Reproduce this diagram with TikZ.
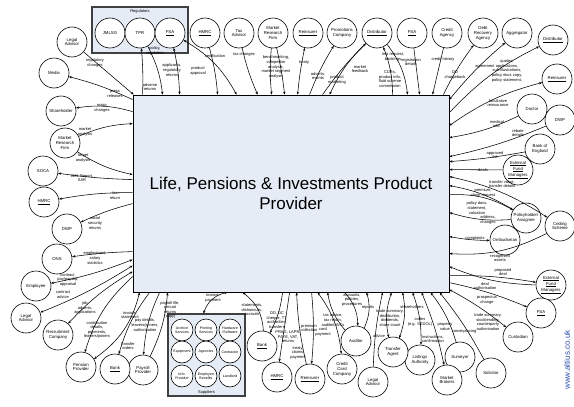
\documentclass[tikz,border=0pt]{standalone}
\usepackage{fontspec}
\setmainfont{Liberation Sans}
\usetikzlibrary{arrows.meta}
\definecolor{boxfill}{HTML}{E6ECF6}
\definecolor{wm}{HTML}{2B4FA8}
\tikzset{
  ent/.style={circle, draw, fill=white, line width=0.6pt, minimum size=30pt, inner sep=0pt, align=center, font=\fontsize{4.3}{4.9}\selectfont},
  sent/.style={ent, minimum size=22pt, font=\fontsize{3.6}{4.2}\selectfont},
  lbl/.style={align=center, inner sep=0pt, font=\fontsize{4}{4.6}\selectfont},
  con/.style={line width=0.55pt, -{Stealth[length=3pt,width=2.4pt]}},
  bi/.style={line width=0.55pt, {Stealth[length=3pt,width=2.4pt]}-{Stealth[length=3pt,width=2.4pt]}},
  grp/.style={draw=black!75, line width=1.1pt, fill=boxfill, inner sep=0pt},
}
\begin{document}
\begin{tikzpicture}[x=1pt,y=-1pt]
\useasboundingbox (0,0) rectangle (574,407);
% main
\node[draw, fill=boxfill, line width=0.8pt, minimum width=316pt, minimum height=197pt, inner sep=0pt, align=center, font=\fontsize{17}{20}\selectfont] (main) at (291,193.5) {Life, Pensions \& Investments Product\\Provider};
% groups
\node[grp, minimum width=96pt, minimum height=46pt] (reg) at (140,30) {};
\node[lbl] (reglbl) at (140,11) {Regulators};
\node[grp, minimum width=77pt, minimum height=82pt] (sup) at (206.5,355) {};
\node[lbl] (suplbl) at (206.5,392) {Suppliers};
% top
\node[ent] (jmlsg) at (110,33) {JMLSG};
\node[ent] (tpr) at (140,33) {TPR};
\node[ent] (fsa1) at (170,33) {\underline{FSA}};
\node[ent] (legal1) at (72,42) {Legal\\Advisor};
\node[ent] (media) at (54,73) {Media};
\node[ent] (hmrc1) at (205,33) {\underline{HMRC}};
\node[ent] (tax) at (239,33) {Tax\\Advisor};
\node[ent] (mrf1) at (273,33) {Market\\Research\\Firm};
\node[ent] (reins1) at (308,33) {\underline{Reinsurer}};
\node[ent] (promo) at (342,33) {Promotions\\Company};
\node[ent] (dist1) at (377,33) {\underline{Distributor}};
\node[ent] (fsa2) at (412,33) {\underline{FSA}};
\node[ent] (credit) at (447,33) {Credit\\Agency};
\node[ent] (debt) at (483,33) {Debt\\Recovery\\Agency};
\node[ent] (aggr) at (517,33) {Aggregator};
\node[ent] (dist2) at (553,40) {\underline{Distributor}};
\node[ent] (reins2) at (557,79) {\underline{Reinsurer}};
% right
\node[ent] (doctor) at (532,109) {Doctor};
\node[ent] (dwp2) at (560,120) {DWP};
\node[ent] (boe) at (540,149) {Bank of\\England};
\node[ent] (efm1) at (518,170) {\underline{External}\\\underline{Fund}\\\underline{Managers}};
\node[ent] (policy) at (526,218) {Policyholder/\\Assignee};
\node[ent] (ceding) at (560,226) {Ceding\\Scheme};
\node[ent] (ombud) at (505,240) {Ombudsman};
\node[ent] (efm2) at (551,285) {\underline{External}\\\underline{Fund}\\\underline{Managers}};
\node[ent] (fsa3) at (541,313) {\underline{FSA}};
\node[ent] (custodian) at (518,337) {Custodian};
\node[ent] (surveyor) at (460,357) {Surveyor};
\node[ent] (solicitor) at (491,373) {Solicitor};
\node[ent] (brokers) at (447,380) {Market\\Brokers};
\node[ent] (listing) at (420,360) {Listings\\Authority};
\node[ent] (transfer) at (393,352) {Transfer\\Agent};
\node[ent] (legal3) at (373,382) {Legal\\Advisor};
\node[ent] (auditor) at (356,341) {Auditor};
\node[ent] (ccc) at (342,369) {Credit\\Card\\Company};
\node[ent] (reins3) at (310,379) {\underline{Reinsurer}};
\node[ent] (hmrc3) at (277,377) {\underline{HMRC}};
\node[ent] (bank2) at (262,346) {\underline{Bank}};
% suppliers
\node[sent] (s1) at (182,330) {Archive\\Services};
\node[sent] (s2) at (206,330) {Printing\\Services};
\node[sent] (s3) at (230,330) {Hardware\\/Software};
\node[sent] (s4) at (182,352) {Equipment};
\node[sent] (s5) at (206,352) {Agencies};
\node[sent] (s6) at (230,352) {Contractor};
\node[sent] (s7) at (182,376) {Info.\\Provider};
\node[sent] (s8) at (206,376) {Employee\\Benefits};
\node[sent] (s9) at (230,376) {Landlord};
% bottom left / left
\node[ent] (payroll) at (143,370) {Payroll\\Provider};
\node[ent] (bank1) at (115,369) {\underline{Bank}};
\node[ent] (pension) at (81,367) {Pension\\Provider};
\node[ent] (recruit) at (58,335) {Recruitment\\Company};
\node[ent] (legal2) at (26,318) {Legal\\Advisor};
\node[ent] (employee) at (36,286) {Employee};
\node[ent] (ons) at (57,259) {ONS};
\node[ent] (dwp1) at (67,229) {DWP};
\node[ent] (hmrc2) at (44,202) {\underline{HMRC}};
\node[ent] (soca) at (43,171) {SOCA};
\node[ent] (mrf2) at (65,143) {Market\\Research\\Firm};
\node[ent] (share) at (61,111) {Shareholder};
% watermark
\node[rotate=90, text=wm, font=\fontsize{8}{9}\selectfont, inner sep=0pt] (wmark) at (567,360) {www.altius.co.uk};

% ---- connectors: top
\draw[con] (legal1) -- ([xshift=1]main.north west);
\draw[con] ([yshift=-5]main.north west) to[bend right=5] (media);
\draw[con] ([xshift=10]main.north west) to[bend right=3] (tpr);
\draw[con] (tpr) to[bend left=10] ([xshift=30]main.north west);
\draw[bi] (fsa1) to[bend left=5] ([xshift=47]main.north west);
\draw[bi] (fsa1) to[bend left=15] ([xshift=104]main.north west);
\draw[con] (hmrc1) to[bend left=5] ([xshift=85]main.north west);
\draw[con] (tax) to[bend right=5] ([xshift=125]main.north west);
\draw[con] (mrf1) to[bend right=5] ([xshift=139]main.north west);
\draw[con] (mrf1) to[bend left=3] ([xshift=152]main.north west);
\draw[bi] ([xshift=165]main.north west) to[bend left=3] (reins1);
\draw[con] ([xshift=177]main.north west) to[bend left=5] (promo);
\draw[con] ([xshift=190]main.north west) to[bend left=5] (dist1);
\draw[con] (dist1) to[bend right=10] ([xshift=197]main.north west);
\draw[con] ([xshift=260]main.north west) to[bend right=10] (dist1);
\draw[con] (dist1) to[bend left=15] ([xshift=275]main.north west);
\draw[con] (fsa2) to ([xshift=287]main.north west);
\draw[con] (credit) to ([xshift=300]main.north west);
\draw[con] ([xshift=-6]main.north east) to[bend left=5] (debt);
% right
\draw[bi] ([yshift=-5]main.north east) to[bend left=5] (aggr);
\draw[con] ([yshift=-18]main.north east) to[bend left=10] (dist2);
\draw[bi] ([yshift=-31]main.north east) to[bend left=10] (reins2);
\draw[con] (doctor) to[bend left=8] ([yshift=-43]main.north east);
\draw[con] (dwp2) to[bend left=5] ([yshift=-62]main.north east);
\draw[con] (boe) to[bend left=3] ([yshift=-67]main.north east);
\draw[con] (efm1) to ([yshift=-75]main.north east);
\draw[bi] ([yshift=-82]main.north east) to[bend left=10] (ceding);
\draw[con] (policy) to[bend right=10] ([yshift=-91]main.north east);
\draw[con] ([yshift=-100]main.north east) to[bend left=15] (policy);
\draw[con] (policy) to[bend left=10] ([yshift=-118]main.north east);
\draw[bi] ([yshift=-142]main.north east) to[bend right=5] (ombud);
\draw[con] (ceding) to[bend left=15] ([yshift=-159]main.north east);
\draw[con] (efm2) to[bend left=10] ([yshift=-172]main.north east);
\draw[con] ([yshift=-181]main.north east) to[bend left=5] (efm2);
\draw[con] ([yshift=-188]main.north east) to[bend left=5] (fsa3);
\draw[bi] ([yshift=-195]main.north east) to[bend left=5] (custodian);
% bottom
\draw[con] (solicitor) to[bend right=5] ([xshift=307]main.south west);
\draw[con] (surveyor) to[bend right=10] ([xshift=298]main.south west);
\draw[bi] ([xshift=289]main.south west) to[bend left=5] (brokers);
\draw[bi] ([xshift=280]main.south west) to[bend left=10] (listing);
\draw[bi] ([xshift=270]main.south west) to[bend left=15] (transfer);
\draw[bi] ([xshift=259]main.south west) to[bend right=15] (transfer);
\draw[con] (legal3) to[bend left=5] ([xshift=250]main.south west);
\draw[con] (auditor) to[bend right=20] ([xshift=234]main.south west);
\draw[con] ([xshift=212]main.south west) to[bend left=20] (auditor);
\draw[con] (auditor) to[bend left=15] ([xshift=195]main.south west);
\draw[bi] ([xshift=185]main.south west) to[bend left=15] (ccc);
\draw[con] ([xshift=179]main.south west) to[bend left=5] (reins3);
\draw[con] (reins3) to[bend left=5] ([xshift=164]main.south west);
\draw[con] ([xshift=157]main.south west) to (hmrc3);
\draw[con] ([xshift=150]main.south west) to[bend left=10] (bank2);
\draw[con] (bank2) to[bend right=25] ([xshift=110]main.south west);
\draw[bi] ([xshift=95]main.south west) to[bend right=30] ([xshift=-3]sup.north);
\draw[con] (payroll) to[bend right=10] ([xshift=35]main.south west);
\draw[con] ([xshift=27]main.south west) to[bend right=10] (payroll);
\draw[con] ([xshift=17]main.south west) to[bend right=10] (bank1);
\draw[bi] (pension) to[bend right=20] ([xshift=7]main.south west);
% left
\draw[con] ([yshift=-182]main.north west) to[bend right=15] (pension);
\draw[bi] ([yshift=-177]main.north west) to[bend right=8] (recruit);
\draw[bi] ([yshift=-171]main.north west) to[bend left=5] (legal2);
\draw[bi] ([yshift=-165]main.north west) to[bend left=5] (employee);
\draw[con] ([yshift=-157]main.north west) to[bend right=3] (ons);
\draw[con] ([yshift=-109]main.north west) to[bend right=5] (dwp1);
\draw[con] ([yshift=-98]main.north west) to[bend right=5] (hmrc2);
\draw[con] ([yshift=-85]main.north west) to[bend left=3] (soca);
\draw[con] (mrf2) to[bend right=10] ([yshift=-80]main.north west);
\draw[con] (mrf2) to[bend left=10] ([yshift=-29]main.north west);
\draw[con] ([yshift=-17]main.north west) to[bend right=12] (share);

% ---- labels
\node[lbl] (l1) at (95,63) {regulatory\\changes};
\node[lbl] (l2) at (115,94) {press\\releases};
\node[lbl] (l3) at (155,51) {policy,\\regulation};
\node[lbl] (l4) at (150,87) {adverse\\returns};
\node[lbl] (l5) at (172,70) {applicants,\\regulatory\\returns};
\node[lbl] (l6) at (198,71) {product\\approval};
\node[lbl] (l7) at (215,56) {certification};
\node[lbl] (l8) at (244,54) {tax changes};
\node[lbl] (l9) at (276,67) {benchmarking,\\competitor\\analysis,\\market segment\\analysis};
\node[lbl] (l10) at (304,63) {treaty};
\node[lbl] (l11) at (318,76) {adverts,\\events};
\node[lbl] (l12) at (337,80) {product\\marketing};
\node[lbl] (l13) at (360,69) {market\\feedback};
\node[lbl] (l14) at (393,57) {info request,\\bookings};
\node[lbl] (l15) at (411,62) {registration\\details};
\node[lbl] (l16) at (390,79) {CDRs,\\product info,\\fluid scheme\\commission};
\node[lbl] (l17) at (443,59) {credit history};
\node[lbl] (l18) at (455,75) {DD\\chargeback};
\node[lbl] (l19) at (485,67) {agreement};
\node[lbl] (l20) at (507,71) {quotes,\\applications,\\sub-illustrations,\\policy docs copy,\\policy statement,};
\node[lbl] (l21) at (498,103) {facultative\\reinsurance};
\node[lbl] (l22) at (497,124) {medical\\info.};
\node[lbl] (l23) at (518,133) {rebate\\details};
\node[lbl] (l24) at (495,155) {approved\\list};
\node[lbl] (l25) at (483,170) {deals};
\node[lbl] (l26) at (502,184) {transfer value,\\transfer details};
\node[lbl] (l27) at (483,193) {premium,\\claim request};
\node[lbl] (l28) at (477,208) {policy docs,\\statement,\\valuation};
\node[lbl] (l29) at (488,220) {address,\\changes};
\node[lbl] (l30) at (475,238) {complaints};
\node[lbl] (l31) at (500,258) {recognised\\assets};
\node[lbl] (l32) at (503,272) {proposed\\deal};
\node[lbl] (l33) at (485,286) {deal\\authorisation};
\node[lbl] (l34) at (487,300) {prospectus\\change};
\node[lbl] (l35) at (488,322) {trade summary,\\stocklending,\\counterparty\\authorisation};
\node[lbl] (l36) at (464,331) {conveyancing};
\node[lbl] (l37) at (445,327) {property\\value};
\node[lbl] (l38) at (433,339) {instructions,\\confirmation};
\node[lbl] (l39) at (420,322) {codes\\(e.g. SEDOL)};
\node[lbl] (l40) at (412,307) {shareholders};
\node[lbl] (l41) at (390,318) {trade summary,\\distribution,\\dividends,\\share count};
\node[lbl] (l42) at (379,336) {advice};
\node[lbl] (l43) at (352,300) {accounts,\\policies,\\procedures};
\node[lbl] (l44) at (368,308) {reports};
\node[lbl] (l45) at (333,320) {tax advice,\\tax return,\\audited A/Cs};
\node[lbl] (l46) at (309,328) {premium\\collection};
\node[lbl] (l47) at (323,332) {card\\payment};
\node[lbl] (l48) at (288,337) {PRAG, LAPR,\\PAYE, VAT,\\returns};
\node[lbl] (l49) at (298,353) {treaty,\\claims,\\payment};
\node[lbl] (l50) at (277,320) {DD, DC\\cheque, TT,\\authorities,\\transfers};
\node[lbl] (l51) at (252,310) {statements,\\dishonours,\\accruals};
\node[lbl] (l52) at (213,298) {invoice,\\payment};
\node[lbl] (l53) at (170,310) {payroll file,\\annual\\returns\\(copy)};
\node[lbl] (l54) at (145,325) {pay details,\\leavers/joiners,\\authorisation};
\node[lbl] (l55) at (128,346) {transfer\\orders};
\node[lbl] (l56) at (130,315) {invoice,\\statement};
\node[lbl] (l57) at (97,330) {contribution\\details,\\payments,\\leavers/joiners};
\node[lbl] (l58) at (85,308) {job\\adverts,\\applications};
\node[lbl] (l59) at (63,295) {contract\\advice};
\node[lbl] (l60) at (68,280) {contract,\\pay/payslip,\\appraisal};
\node[lbl] (l61) at (95,258) {employment,\\salary\\statistics};
\node[lbl] (l62) at (95,223) {social\\security\\returns};
\node[lbl] (l63) at (115,196) {tax\\return};
\node[lbl] (l64) at (82,178) {AML Report,\\SAR};
\node[lbl] (l65) at (83,158) {target\\analysis};
\node[lbl] (l66) at (85,132) {market\\analysis};
\node[lbl] (l67) at (102,108) {major\\changes};
\end{tikzpicture}
\end{document}
